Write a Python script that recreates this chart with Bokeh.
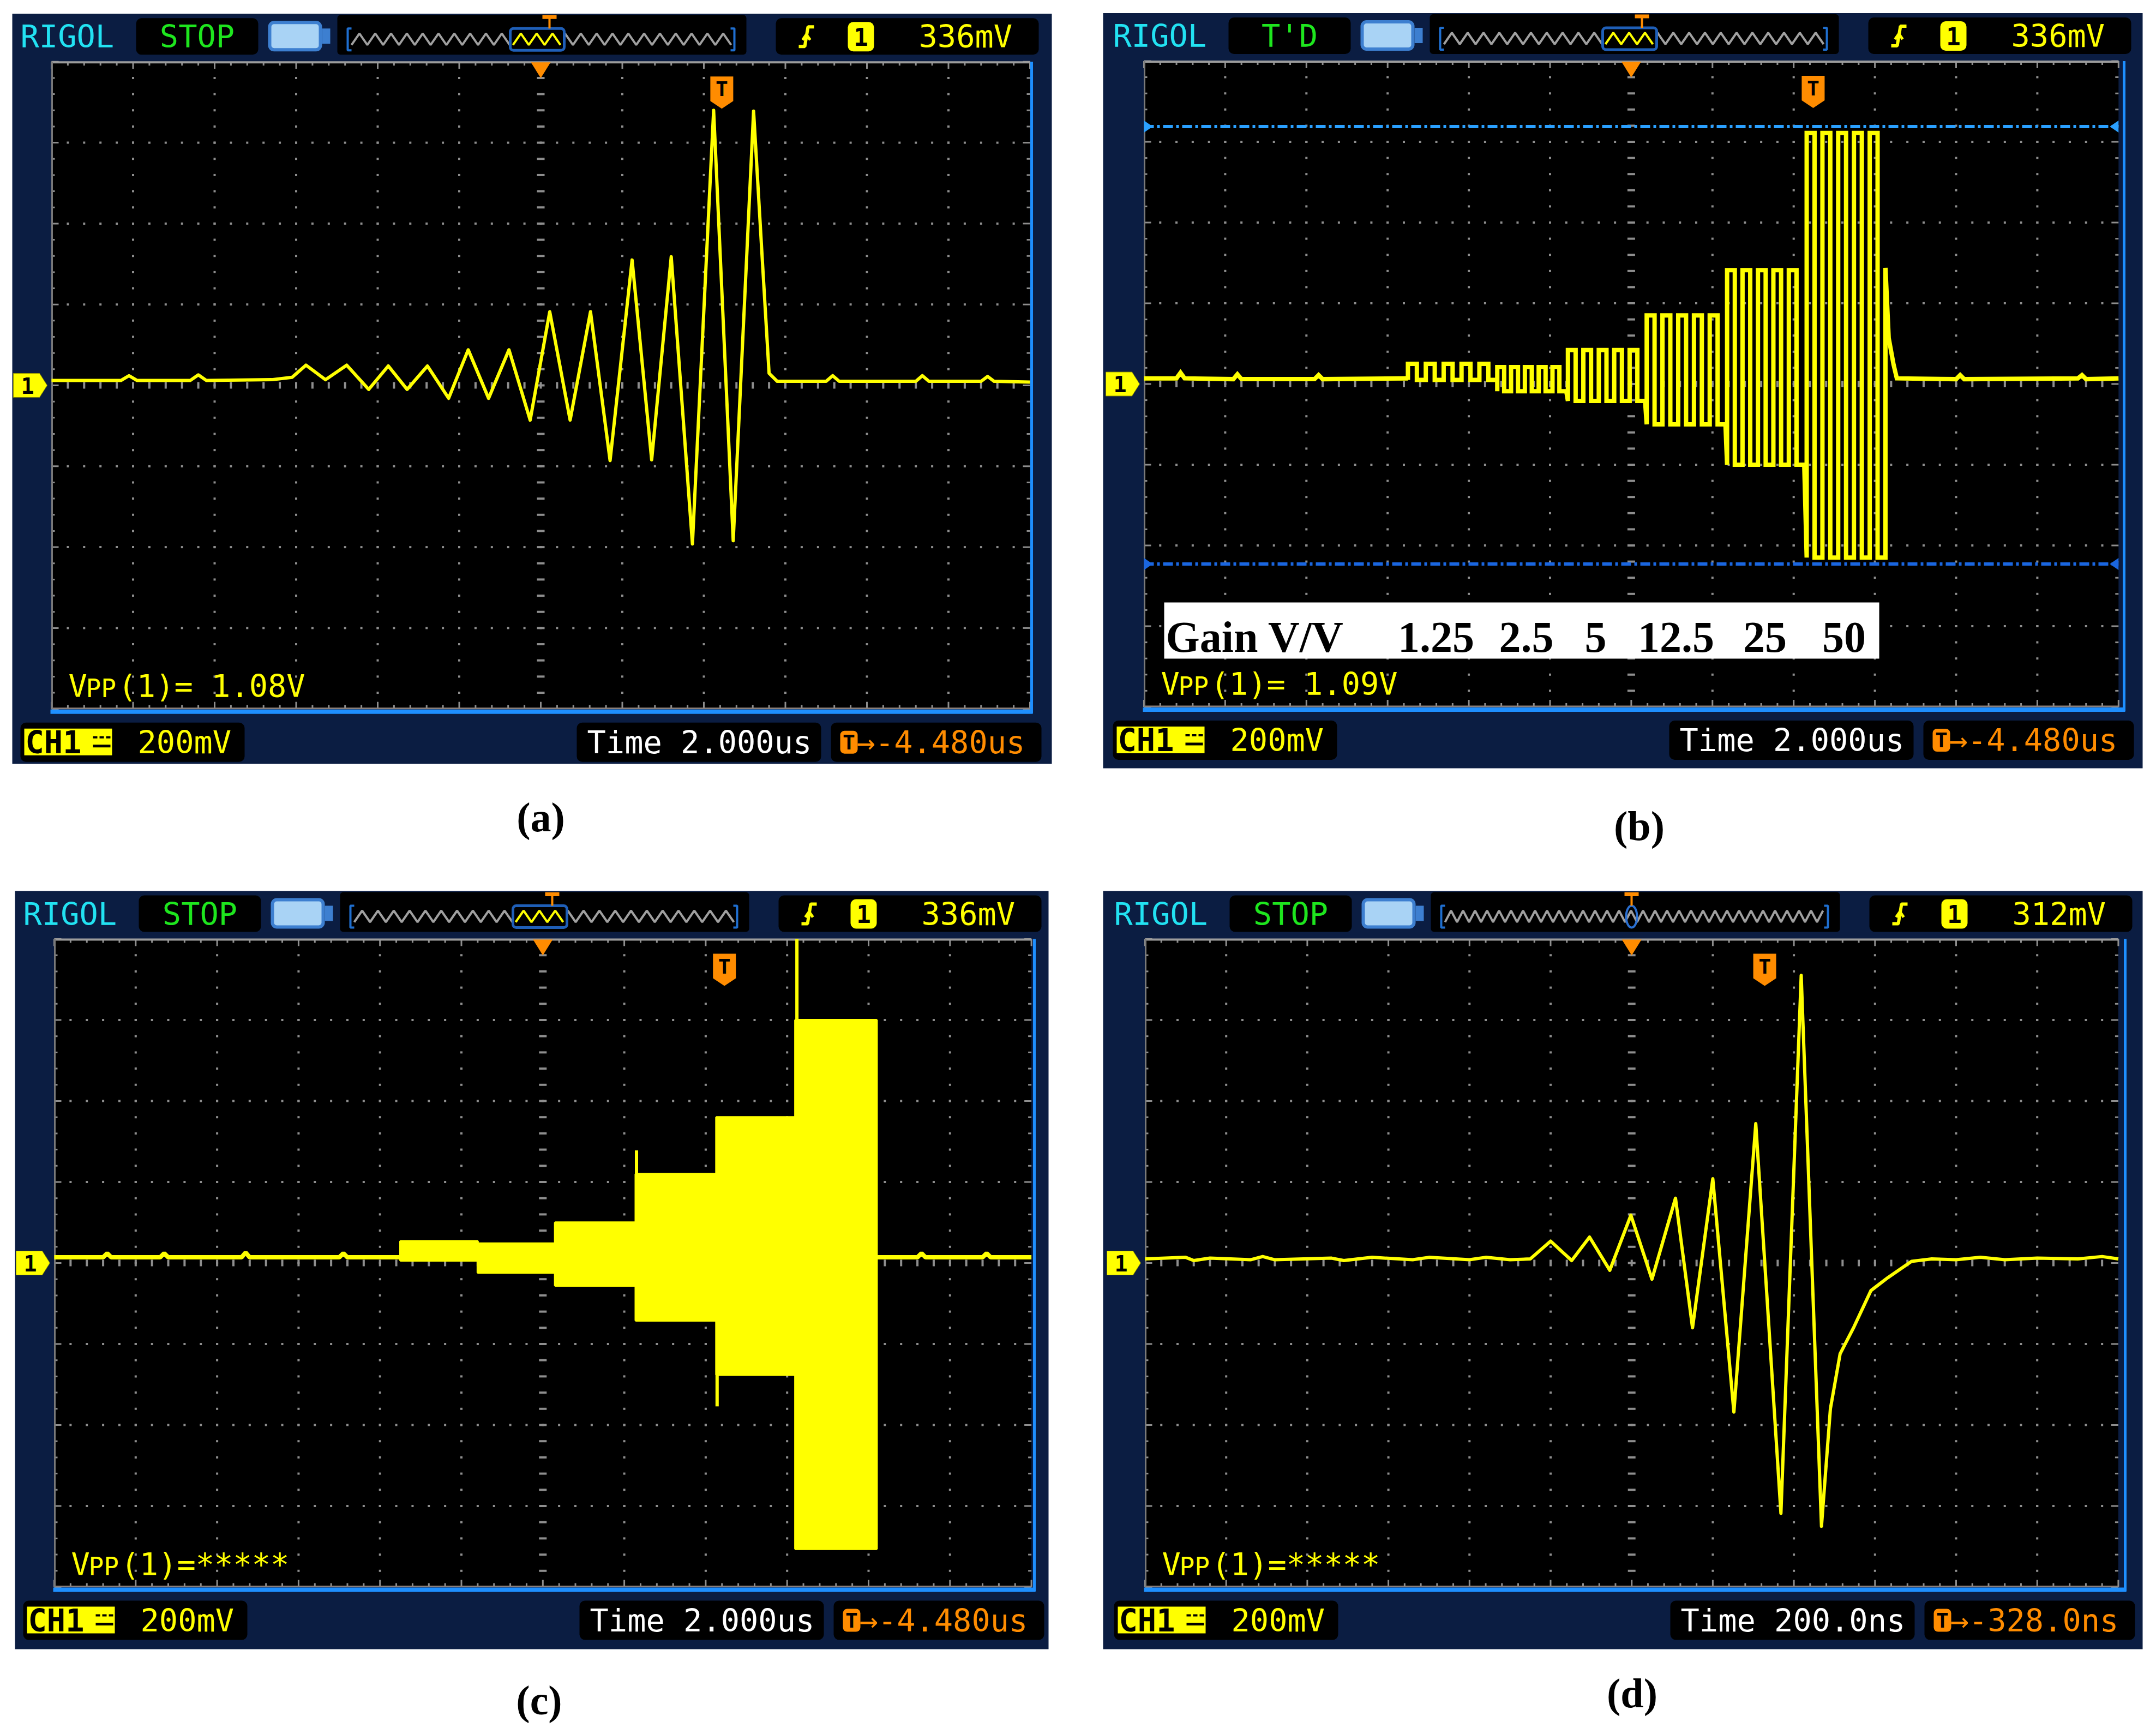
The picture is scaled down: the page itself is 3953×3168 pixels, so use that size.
import numpy as np
from bokeh.plotting import figure
from bokeh.layouts import column, row
from bokeh.models import Range1d
from bokeh.core.properties import value
from bokeh.embed import file_html
from bokeh.resources import INLINE

# ---------------- data (scope divisions: x 0..12, y -4..4) -------------
# (a) 200 mV/div, 2 us/div
a_time = [0.0, 0.85, 0.95, 1.05, 1.7, 1.8, 1.9, 2.7, 2.95, 3.12, 3.36, 3.62, 3.89, 4.13, 4.36, 4.61,
          4.87, 5.11, 5.36, 5.61, 5.87, 6.11, 6.36, 6.61, 6.85, 7.12, 7.36, 7.60, 7.86, 8.12, 8.36,
          8.61, 8.72, 8.80, 8.90, 9.50, 9.58, 9.66, 10.6, 10.68, 10.76, 11.4, 11.48, 11.56, 12.0]
a_volt = [0.06, 0.06, 0.12, 0.06, 0.06, 0.13, 0.06, 0.07, 0.10, 0.25, 0.07, 0.25, -0.05, 0.24, -0.05, 0.24,
          -0.16, 0.44, -0.16, 0.44, -0.43, 0.91, -0.43, 0.91, -0.93, 1.55, -0.92, 1.59, -1.96, 3.40, -1.92,
          3.39, 1.50, 0.15, 0.05, 0.05, 0.12, 0.05, 0.05, 0.12, 0.05, 0.05, 0.11, 0.05, 0.04]

# (b) gain steps (square-wave bursts)
gain_labels = ["1.25", "2.5", "5", "12.5", "25", "50"]
b_stage_start = [3.25, 4.35, 5.22, 6.19, 7.18, 8.16]
b_stage_end = [4.35, 5.20, 6.17, 7.16, 8.13, 9.13]
b_stage_top = [0.25, 0.21, 0.42, 0.85, 1.41, 3.11]
b_stage_bottom = [0.05, -0.09, -0.21, -0.50, -1.00, -2.15]
b_stage_pulses = [5, 5, 5, 5, 5, 5]
b_pre_time = [0.0, 0.40, 0.45, 0.50, 1.10, 1.15, 1.20, 2.10, 2.15, 2.20, 3.25]
b_pre_volt = [0.07, 0.07, 0.14, 0.07, 0.06, 0.12, 0.06, 0.06, 0.11, 0.06, 0.07]
b_post_time = [9.13, 9.17, 9.23, 9.27, 10.0, 10.05, 10.1, 11.5, 11.55, 11.6, 12.0]
b_post_volt = [1.44, 0.57, 0.24, 0.07, 0.06, 0.11, 0.06, 0.07, 0.11, 0.06, 0.07]
b_cursor_levels = [3.19, -2.23]

# (c) gain steps, dense bursts (filled envelopes)
c_stage_start = [4.25, 5.20, 6.15, 7.14, 8.13, 9.10]
c_stage_end = [5.20, 6.15, 7.14, 8.13, 9.10, 10.10]
c_stage_top = [0.27, 0.24, 0.50, 1.10, 1.80, 3.00]
c_stage_bottom = [0.03, -0.12, -0.28, -0.71, -1.38, -3.53]
c_spike_time = [7.15, 8.14, 9.12]
c_spike_from = [1.10, -1.38, 3.00]
c_spike_to = [1.39, -1.77, 4.00]
c_pre_time = [0.0, 0.6, 0.65, 0.7, 1.3, 1.35, 1.4, 2.3, 2.35, 2.4, 3.5, 3.55, 3.6, 4.25]
c_pre_volt = [0.07, 0.07, 0.12, 0.07, 0.07, 0.12, 0.07, 0.07, 0.13, 0.07, 0.07, 0.12, 0.07, 0.07]
c_post_time = [10.10, 10.6, 10.65, 10.7, 11.4, 11.45, 11.5, 12.0]
c_post_volt = [0.07, 0.07, 0.12, 0.07, 0.07, 0.12, 0.07, 0.07]

# (d) 200 mV/div, 200 ns/div
d_time = [0.0, 0.5, 0.6, 0.8, 1.3, 1.45, 1.6, 2.3, 2.45, 2.8, 3.3, 3.5, 4.0, 4.2, 4.5, 4.75,
          5.0, 5.26, 5.48, 5.73, 5.99, 6.25, 6.54, 6.75, 7.0, 7.26, 7.53, 7.84, 8.09, 8.34,
          8.45, 8.57, 8.74, 8.95, 9.16, 9.45, 9.7, 10.0, 10.3, 10.6, 11.0, 11.5, 11.8, 12.0]
d_volt = [0.05, 0.07, 0.03, 0.06, 0.04, 0.08, 0.04, 0.06, 0.03, 0.07, 0.04, 0.07, 0.04, 0.07, 0.04, 0.05,
          0.27, 0.03, 0.32, -0.09, 0.59, -0.20, 0.80, -0.80, 1.04, -1.84, 1.72, -3.09, 3.55, -3.25,
          -1.80, -1.12, -0.79, -0.34, -0.18, 0.02, 0.05, 0.04, 0.07, 0.04, 0.06, 0.05, 0.08, 0.05]

status_text = ["STOP", "T'D", "STOP", "STOP"]
trig_level = ["336mV", "336mV", "336mV", "312mV"]
vpp_text = ["(1)= 1.08V", "(1)= 1.09V", "(1)=*****", "(1)=*****"]
timebase = ["Time 2.000us", "Time 2.000us", "Time 2.000us", "Time 200.0ns"]
trig_offset = ["\u2192-4.480us", "\u2192-4.480us", "\u2192-4.480us", "\u2192-328.0ns"]
captions = ["(a)", "(b)", "(c)", "(d)"]
trig_pos = [8.22, 8.24, 8.23, 7.64]

# ---------------- layout / style ----------------
W = 1968
ROW_H = [1576, 1586]
ROW_TOP = [0, 1576]
MONO = "DejaVu Sans Mono"
SERIF = "Liberation Serif"
FS = "57px"
NAVY = "#0b1d42"
GRID = "#8e8e8e"
YEL = "#ffff00"
ORANGE = "#ff8c00"
BLUE = "#1e8fff"
CYAN = "#22e2f2"
GREEN = "#1ee61e"
TRACE_W = 6

GEO = [
    dict(col=0, row=0, X0=94, Yc=706, dx=149.5, dy=148.3, fl=-72, fr=1834, fb=1400, cap=(991, 1497)),
    dict(col=1, row=0, X0=2097, Yc=703.5, dx=148.9, dy=148.0, fl=-75, fr=1831, fb=1408, cap=(3005, 1513)),
    dict(col=0, row=1, X0=99, Yc=2315, dx=149.3, dy=148.5, fl=-72, fr=1823, fb=3023, cap=(988, 3116)),
    dict(col=1, row=1, X0=2099, Yc=2315, dx=148.7, dy=148.5, fl=-77, fr=1829, fb=3023, cap=(2992, 3103)),
]


def txt(p, x, y, s, color, size=FS, font=MONO, align="left", baseline="middle", style="normal"):
    p.text(x=[x], y=[y], text=[s], text_color=color, text_font=value(font), text_font_size=size,
           text_align=align, text_baseline=baseline, text_font_style=style)


def zig(x0, x1, ytop, ybot, period):
    xs, ys, x, up = [], [], x0, False
    while x <= x1:
        xs.append(x)
        ys.append(ytop if up else ybot)
        x += period / 2.0
        up = not up
    return xs, ys


def build(i):
    g = GEO[i]
    X0, Yc, dx, dy = g["X0"], g["Yc"], g["dx"], g["dy"]
    H = ROW_H[g["row"]]
    left_abs = g["col"] * W
    top_abs = ROW_TOP[g["row"]]
    xs0 = (left_abs - X0) / dx
    yt0 = (Yc - top_abs) / dy
    p = figure(width=W, height=H, x_range=Range1d(xs0, xs0 + W / dx), y_range=Range1d(yt0 - H / dy, yt0),
               output_backend="svg", toolbar_location=None, x_axis_location=None, y_axis_location=None,
               min_border=0, background_fill_color="white", border_fill_color="white",
               outline_line_color=None)
    p.xgrid.grid_line_color = None
    p.ygrid.grid_line_color = None

    hx = lambda r: r / dx
    ty = lambda r: 4 - r / dy
    by = lambda r: -4 - r / dy
    ax = lambda X: (X - X0) / dx
    ay = lambda Y: (Yc - Y) / dy

    # outer frame
    p.quad(left=hx(g["fl"]), right=hx(g["fr"]), top=ty(-88), bottom=ay(g["fb"]), fill_color=NAVY, line_color=None)

    # ---- header ----
    txt(p, hx(-57), ty(-46), "RIGOL", CYAN)
    p.quad(left=hx(155), right=hx(379), top=ty(-80), bottom=ty(-13), fill_color="black", line_color=None, border_radius=10)
    txt(p, hx(267), ty(-46), status_text[i], GREEN, align="center")
    # battery icon
    p.quad(left=hx(400), right=hx(493), top=ty(-72), bottom=ty(-22), fill_color="#a9d3f5", line_color="#3d7fd0", line_width=6, border_radius=8)
    p.quad(left=hx(496), right=hx(511), top=ty(-61), bottom=ty(-33), fill_color="#3d7fd0", line_color=None)
    # overview
    p.quad(left=hx(524), right=hx(1274), top=ty(-86), bottom=ty(-13), fill_color="black", line_color=None, border_radius=6)
    period = 22 if i == 3 else 29
    zx, zy = zig(550, 1246, -52, -31, period)
    p.line([hx(v) for v in zx], [ty(v) for v in zy], line_color="#a0a0a0", line_width=4)
    for bx, d in ((543, 7), (1252, -7)):
        p.line([hx(bx + d), hx(bx), hx(bx), hx(bx + d)], [ty(-61), ty(-61), ty(-21), ty(-21)], line_color="#1f6fd0", line_width=4)
    if i == 3:
        p.ellipse(x=hx(892), y=ty(-41), width=20 / dx, height=40 / dy, fill_color=None, line_color="#2a6fd0", line_width=4)
        tx = 892
    else:
        p.quad(left=hx(841), right=hx(940), top=ty(-61), bottom=ty(-21), fill_color="black", line_color="#1f5fb8", line_width=5, border_radius=6)
        hzx, hzy = zig(846, 935, -52, -31, period)
        p.line([hx(v) for v in hzx], [ty(v) for v in hzy], line_color=YEL, line_width=4)
        tx = 913
    p.segment(x0=hx(tx), y0=ty(-82), x1=hx(tx), y1=ty(-61), line_color=ORANGE, line_width=4)
    p.segment(x0=hx(tx - 13), y0=ty(-82), x1=hx(tx + 13), y1=ty(-82), line_color=ORANGE, line_width=7)
    # right header box
    p.quad(left=hx(1328), right=hx(1810), top=ty(-80), bottom=ty(-13), fill_color="black", line_color=None, border_radius=10)
    p.line([hx(1370), hx(1381), hx(1387), hx(1398)], [ty(-28), ty(-28), ty(-64), ty(-64)], line_color=YEL, line_width=6)
    p.line([hx(1377), hx(1384), hx(1391)], [ty(-40), ty(-50), ty(-40)], line_color=YEL, line_width=5)
    p.quad(left=hx(1460), right=hx(1508), top=ty(-73), bottom=ty(-19), fill_color=YEL, line_color=None, border_radius=10)
    txt(p, hx(1484), ty(-46), "1", "black", size="44px", align="center", style="bold")
    txt(p, hx(1590), ty(-46), trig_level[i], YEL)

    # ---- screen ----
    p.quad(left=0, right=12, top=4, bottom=-4, fill_color="black", line_color=None)
    # grid dots
    yk = np.round(-4 + np.arange(1, 40) * 0.2, 6)
    xk = np.round(np.arange(1, 60) * 0.2, 6)
    vx = [x for x in range(1, 12) if x != 6 for _ in yk]
    vy = [y for x in range(1, 12) if x != 6 for y in yk]
    p.rect(x=vx, y=vy, width=4, height=4, width_units="screen", height_units="screen", fill_color=GRID, line_color=None)
    hxs = [x for y in (-3, -2, -1, 1, 2, 3) for x in xk]
    hys = [y for y in (-3, -2, -1, 1, 2, 3) for x in xk]
    p.rect(x=hxs, y=hys, width=4, height=4, width_units="screen", height_units="screen", fill_color=GRID, line_color=None)
    p.rect(x=[6] * len(yk), y=yk, width=14, height=4, width_units="screen", height_units="screen", fill_color=GRID, line_color=None)
    p.rect(x=xk, y=[0] * len(xk), width=4, height=12, width_units="screen", height_units="screen", fill_color=GRID, line_color=None)
    # border ruler
    tk = np.arange(0, 61) * 0.2
    Lx = np.where(np.isclose(tk, np.round(tk)), 13, 7)
    p.segment(x0=tk, y0=[ty(0)] * len(tk), x1=tk, y1=[ty(v) for v in Lx], line_color=GRID, line_width=3)
    p.segment(x0=tk, y0=[by(0)] * len(tk), x1=tk, y1=[by(-v) for v in Lx], line_color=GRID, line_width=3)
    vk = -4 + np.arange(0, 41) * 0.2
    Ly = np.where(np.isclose(vk, np.round(vk)), 13, 6)
    p.segment(x0=[0] * len(vk), y0=vk, x1=[hx(v) for v in Ly], y1=vk, line_color=GRID, line_width=3)
    p.segment(x0=[12] * len(vk), y0=vk, x1=[12 - hx(v) for v in Ly], y1=vk, line_color=GRID, line_width=3)
    p.segment(x0=0, y0=ty(1), x1=12, y1=ty(1), line_color="#9c9c9c", line_width=4)
    p.segment(x0=0, y0=by(-1), x1=12, y1=by(-1), line_color="#8a7f7a", line_width=3)
    p.segment(x0=hx(1), y0=4, x1=hx(1), y1=-4, line_color="#7a7a7a", line_width=3)
    p.segment(x0=hx(1797), y0=ty(0), x1=hx(1797), y1=by(8), line_color=BLUE, line_width=5)
    p.segment(x0=hx(-2), y0=by(5), x1=hx(1799), y1=by(5), line_color=BLUE, line_width=8)

    # ---- trace ----
    if i == 0:
        p.line(a_time, a_volt, line_color=YEL, line_width=TRACE_W, line_join="round")
    elif i == 1:
        bx, byv = list(b_pre_time), list(b_pre_volt)
        for s, e, tp, bt, n in zip(b_stage_start, b_stage_end, b_stage_top, b_stage_bottom, b_stage_pulses):
            per = (e - s) / n
            for k in range(n):
                t0 = s + k * per
                bx += [t0, t0, t0 + per / 2, t0 + per / 2]
                byv += [bt, tp, tp, bt]
            bx.append(e)
            byv.append(bt)
        bx += b_post_time
        byv += b_post_volt
        for lv, col in zip(b_cursor_levels, ("#2aa0ff", "#1a66e0")):
            p.segment(x0=0, y0=lv, x1=12, y1=lv, line_color=col, line_width=6, line_dash="18 6 5 6")
            p.patch([0, hx(16), 0], [lv + 11 / dy, lv, lv - 11 / dy], fill_color=col, line_color=None)
            p.patch([12, 12 - hx(16), 12], [lv + 11 / dy, lv, lv - 11 / dy], fill_color=col, line_color=None)
        p.line(bx, byv, line_color=YEL, line_width=8, line_join="miter")
    elif i == 2:
        p.line(c_pre_time, c_pre_volt, line_color=YEL, line_width=8)
        p.line(c_post_time, c_post_volt, line_color=YEL, line_width=8)
        p.quad(left=c_stage_start, right=c_stage_end, top=c_stage_top, bottom=c_stage_bottom, fill_color=YEL, line_color=YEL, line_width=4)
        p.segment(x0=c_spike_time, y0=c_spike_from, x1=c_spike_time, y1=c_spike_to, line_color=YEL, line_width=6)
    else:
        p.line(d_time, d_volt, line_color=YEL, line_width=TRACE_W, line_join="round")

    # channel marker
    cy = 0.0
    p.patch([hx(-70), hx(-22), hx(-8), hx(-22), hx(-70)], [cy - 22 / dy, cy - 22 / dy, cy, cy + 22 / dy, cy + 22 / dy],
            fill_color=YEL, line_color="#8a8a00", line_width=1)
    txt(p, hx(-44), cy, "1", "black", size="40px", align="center", style="bold")
    # horizontal position marker
    p.patch([6 - hx(18), 6 + hx(18), 6], [ty(1), ty(1), ty(30)], fill_color=ORANGE, line_color=None)
    # trigger marker
    tp = trig_pos[i]
    p.patch([tp - hx(21), tp + hx(21), tp + hx(21), tp, tp - hx(21)], [ty(27), ty(27), ty(72), ty(86), ty(72)],
            fill_color=ORANGE, line_color=None)
    txt(p, tp, ty(50), "T", "black", size="38px", align="center", style="bold")

    # Vpp measurement
    txt(p, hx(31), by(-42), "V", YEL)
    txt(p, hx(63), by(-38), "PP", YEL, size="46px")
    txt(p, hx(122), by(-42), vpp_text[i], YEL)

    # gain annotation box in (b)
    if i == 1:
        p.quad(left=hx(37), right=hx(1348), top=by(-191.5), bottom=by(-88.5), fill_color="white", line_color=None)
        txt(p, hx(40), by(-128), "Gain V/V", "black", size="80px", font=SERIF, baseline="alphabetic", style="bold")
        for lab, cx in zip(gain_labels, (535.5, 701, 828, 975.5, 1138.5, 1283.5)):
            txt(p, hx(cx), by(-128), lab, "black", size="80px", font=SERIF, align="center", baseline="alphabetic", style="bold")

    # ---- footer ----
    p.quad(left=hx(-57), right=hx(354), top=by(25), bottom=by(97), fill_color="black", line_color=None, border_radius=10)
    p.quad(left=hx(-50), right=hx(111), top=by(36), bottom=by(85), fill_color=YEL, line_color=None)
    txt(p, hx(-48), by(61), "CH1", "black", style="bold")
    p.segment(x0=hx(76), y0=by(68), x1=hx(108), y1=by(68), line_color="black", line_width=5)
    p.segment(x0=[hx(76), hx(88), hx(100)], y0=[by(52)] * 3, x1=[hx(84), hx(96), hx(108)], y1=[by(52)] * 3, line_color="black", line_width=4)
    txt(p, hx(158), by(61), "200mV", YEL)
    p.quad(left=hx(963), right=hx(1411), top=by(25), bottom=by(97), fill_color="black", line_color=None, border_radius=10)
    txt(p, hx(982), by(61), timebase[i], "white")
    p.quad(left=hx(1429), right=hx(1815), top=by(25), bottom=by(97), fill_color="black", line_color=None, border_radius=10)
    p.quad(left=hx(1446), right=hx(1478), top=by(40), bottom=by(82), fill_color=ORANGE, line_color=None, border_radius=8)
    txt(p, hx(1462), by(61), "T", "black", size="38px", align="center", style="bold")
    txt(p, hx(1476), by(61), trig_offset[i], ORANGE)

    # caption
    cx, cyc = g["cap"]
    txt(p, ax(cx), ay(cyc), captions[i], "black", size="76px", font=SERIF, align="center", style="bold")
    return p


panels = [build(i) for i in range(4)]
layout = column(row(panels[0], panels[1]), row(panels[2], panels[3]))
open("out.html", "w").write(file_html(layout, INLINE))
